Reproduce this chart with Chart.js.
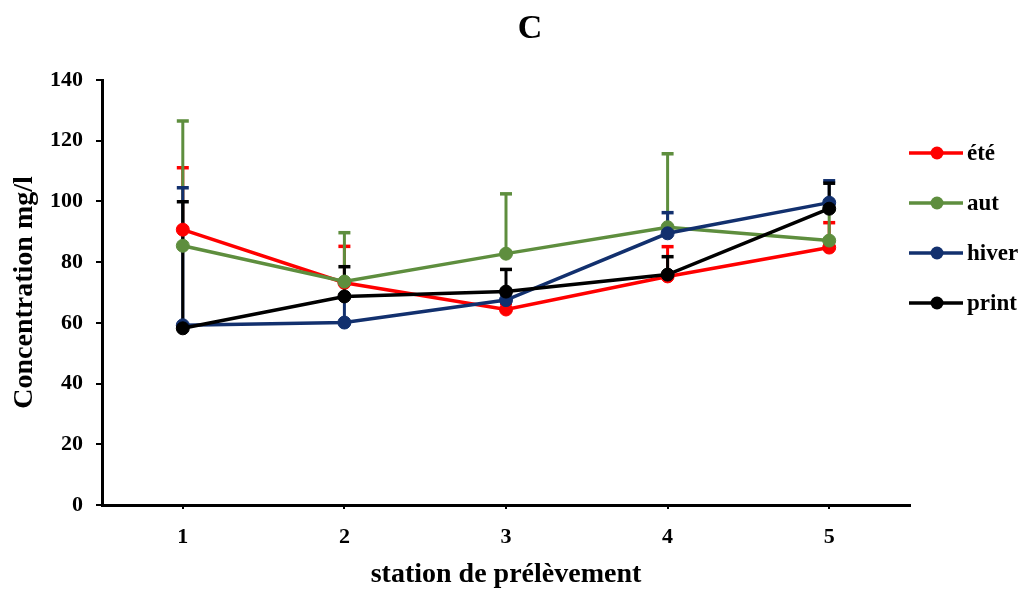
<!DOCTYPE html>
<html>
<head>
<meta charset="utf-8">
<script src="https://cdn.jsdelivr.net/npm/chart.js@4.4.0/dist/chart.umd.min.js"></script>
<style>
  html, body { margin: 0; padding: 0; background: #fff; }
</style>
</head>
<body>
<canvas id="concChart" width="1024" height="590"></canvas>
<script>
// stations along the x axis
const stations = ["1", "2", "3", "4", "5"];

// mean concentration (mg/l) per season, with upper standard deviation
const ete = [90.7, 73.2, 64.4, 75.3, 84.8];
const eteErr = [20.4, 12.0, 2.0, 9.8, 8.2];

const aut = [85.4, 73.6, 82.8, 91.5, 87.1];
const autErr = [41.1, 16.1, 19.7, 24.2, 10.0];

const hiver = [59.2, 60.1, 67.5, 89.5, 99.6];
const hiverErr = [45.3, 8.5, 2.0, 6.8, 7.2];

const print = [58.2, 68.7, 70.3, 75.9, 97.6];
const printErr = [41.7, 9.8, 7.3, 5.9, 8.4];

const yTicks = { min: 0, max: 140, step: 20 };

const FONT = "'Liberation Serif', 'Times New Roman', serif";

// upward error bars with a small cap, drawn under the lines
const errorBars = {
  id: "errorBars",
  beforeDatasetsDraw(chart) {
    const ctx = chart.ctx;
    const xs = chart.scales.x;
    const ys = chart.scales.y;
    chart.data.datasets.forEach((ds) => {
      ctx.save();
      ctx.strokeStyle = ds.borderColor;
      ds.errors.forEach((e, i) => {
        const px = xs.getPixelForValue(i);
        const y0 = ys.getPixelForValue(ds.data[i]);
        const y1 = ys.getPixelForValue(ds.data[i] + e);
        ctx.lineWidth = 3;
        ctx.beginPath();
        ctx.moveTo(px, y0);
        ctx.lineTo(px, y1);
        ctx.stroke();
        ctx.lineWidth = 3.5;
        ctx.beginPath();
        ctx.moveTo(px - 6, y1);
        ctx.lineTo(px + 6, y1);
        ctx.stroke();
      });
      ctx.restore();
    });
  },
};

// big "C" heading and the line+dot legend on the right
const headerAndKey = {
  id: "headerAndKey",
  afterDraw(chart) {
    const ctx = chart.ctx;
    ctx.save();
    ctx.fillStyle = "#000";
    ctx.font = "bold 34px " + FONT;
    ctx.textAlign = "center";
    ctx.textBaseline = "middle";
    ctx.fillText("C", 530, 29);

    const rows = [153, 203, 253, 303];
    chart.data.datasets.forEach((ds, i) => {
      const y = rows[i];
      ctx.strokeStyle = ds.borderColor;
      ctx.lineWidth = 3.5;
      ctx.beginPath();
      ctx.moveTo(909, y);
      ctx.lineTo(963, y);
      ctx.stroke();
      ctx.fillStyle = ds.borderColor;
      ctx.beginPath();
      ctx.arc(937, y, 6.5, 0, Math.PI * 2);
      ctx.fill();
      ctx.fillStyle = "#000";
      ctx.font = "bold 23px " + FONT;
      ctx.textAlign = "left";
      ctx.fillText(ds.label, 967, y + 1);
    });
    ctx.restore();
  },
};

function series(label, data, errors, color, order) {
  return {
    label: label,
    data: data,
    errors: errors,
    borderColor: color,
    backgroundColor: color,
    pointBackgroundColor: color,
    pointBorderColor: color,
    pointRadius: 6.5,
    pointBorderWidth: 1,
    borderWidth: 3.5,
    tension: 0,
    fill: false,
    order: order,
  };
}

new Chart(document.getElementById("concChart").getContext("2d"), {
  type: "line",
  data: {
    labels: stations,
    datasets: [
      series("été", ete, eteErr, "#ff0000", 4),
      series("aut", aut, autErr, "#5e8e3e", 3),
      series("hiver", hiver, hiverErr, "#12306e", 2),
      series("print", print, printErr, "#000000", 1),
    ],
  },
  options: {
    responsive: false,
    animation: false,
    layout: { padding: { top: 80, right: 114, left: 0, bottom: 0 } },
    plugins: {
      legend: { display: false },
      tooltip: { enabled: false },
    },
    scales: {
      x: {
        offset: true,
        grid: {
          display: true,
          drawOnChartArea: false,
          drawTicks: true,
          tickLength: 4,
          lineWidth: 2,
          color: "#000",
        },
        border: { display: true, width: 3, color: "#000" },
        ticks: {
          color: "#000",
          padding: 15,
          font: { family: FONT, size: 22, weight: "bold" },
        },
        title: {
          display: true,
          text: "station de prélèvement",
          color: "#000",
          font: { family: FONT, size: 28, weight: "bold", lineHeight: 1 },
          padding: { top: 0, bottom: 1 },
        },
        afterFit(scale) {
          scale.height = 85;
        },
      },
      y: {
        min: yTicks.min,
        max: yTicks.max,
        grid: {
          display: true,
          drawOnChartArea: false,
          drawTicks: true,
          tickLength: 6,
          lineWidth: 2,
          color: "#000",
        },
        border: { display: true, width: 3, color: "#000" },
        ticks: {
          stepSize: yTicks.step,
          color: "#000",
          padding: 13,
          font: { family: FONT, size: 22, weight: "bold" },
        },
        title: {
          display: true,
          text: "Concentration mg/l",
          color: "#000",
          font: { family: FONT, size: 28, weight: "bold" },
          padding: { top: 8, bottom: 0 },
        },
        afterFit(scale) {
          scale.width = 102;
        },
      },
    },
  },
  plugins: [errorBars, headerAndKey],
});
</script>
</body>
</html>
